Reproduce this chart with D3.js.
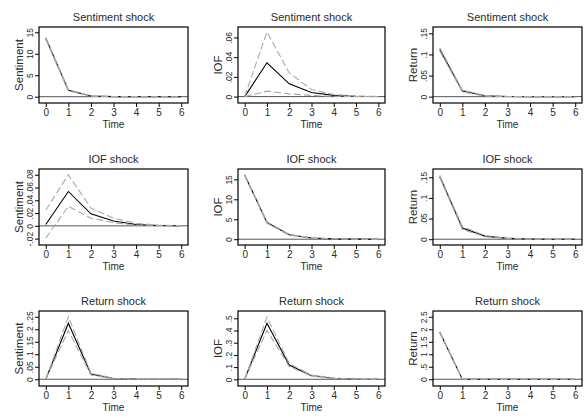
<!DOCTYPE html>
<html lang="en">
<head>
  <meta charset="UTF-8">
  <title>Impulse responses</title>
  <script src="https://d3js.org/d3.v7.min.js"></script>
  <style>
    body { margin: 0; background: #fff; }
    svg { display: block; }
    svg text { font-family: "Liberation Sans", Arial, sans-serif; font-weight: normal; fill: #2a2a2a; }
    .title { font-size: 11px; }
    .ytitle { font-size: 11.5px; }
    .xtitle { font-size: 10px; }
    .x-axis text { font-size: 10px; }
    .y-axis text { font-size: 8.5px; }
    .domain { display: none; }
  </style>
</head>
<body>
  <svg id="chart" width="584" height="418"></svg>
  <script>
    const steps = [0, 1, 2, 3, 4, 5, 6];
    const shocks = ['Sentiment shock', 'IOF shock', 'Return shock'];
    const responses = ['Sentiment', 'IOF', 'Return'];

    // row = shock, col = response
    const irfMean = [
      [13.6, 1.5, 0.15, 0.02, 0.003, 0, 0],
      [0, 0.0343, 0.013, 0.0041, 0.0012, 0.0003, 0.0001],
      [0.112, 0.0134, 0.002, 0.0003, 0, 0, 0],
      [0.002, 0.0538, 0.0188, 0.0075, 0.002, 0.0005, 0.0001],
      [16.1, 4.2, 1.1, 0.3, 0.08, 0.02, 0.005],
      [0.152, 0.027, 0.0075, 0.002, 0.0005, 0.0001, 0],
      [0, 0.224, 0.021, 0.003, 0.0004, 0, 0],
      [0, 0.46, 0.117, 0.03, 0.008, 0.002, 0.0005],
      [1.88, 0.005, 0, 0, 0, 0, 0]
    ];
    const irfLower = [
      [13.4, 1.35, 0.1, 0.01, 0, 0, 0],
      [0, 0.0055, 0.0028, 0.0012, 0.0003, 0.0001, 0],
      [0.108, 0.0115, 0.0012, 0.0001, 0, 0, 0],
      [-0.0193, 0.0305, 0.012, 0.005, 0.0012, 0.0003, 0],
      [16.0, 4.0, 1.0, 0.25, 0.06, 0.015, 0.003],
      [0.149, 0.024, 0.006, 0.0015, 0.0003, 0.0001, 0],
      [0, 0.195, 0.017, 0.002, 0.0002, 0, 0],
      [0, 0.40, 0.105, 0.026, 0.006, 0.0015, 0.0003],
      [1.86, 0.003, 0, 0, 0, 0, 0]
    ];
    const irfUpper = [
      [13.8, 1.65, 0.2, 0.03, 0.005, 0.001, 0],
      [0, 0.0656, 0.024, 0.0072, 0.002, 0.0006, 0.0002],
      [0.116, 0.0155, 0.003, 0.0005, 0.0001, 0, 0],
      [0.0245, 0.08, 0.0277, 0.012, 0.004, 0.001, 0.0003],
      [16.2, 4.4, 1.2, 0.35, 0.1, 0.025, 0.007],
      [0.155, 0.031, 0.009, 0.0025, 0.0007, 0.0002, 0],
      [0, 0.25, 0.025, 0.004, 0.0006, 0.0001, 0],
      [0, 0.51, 0.13, 0.034, 0.01, 0.0025, 0.0007],
      [1.90, 0.007, 0, 0, 0, 0, 0]
    ];
    const yTicks = [
      [0, 5, 10, 15],
      [0, 0.02, 0.04, 0.06],
      [0, 0.05, 0.1, 0.15],
      [-0.02, 0, 0.02, 0.04, 0.06, 0.08],
      [0, 5, 10, 15],
      [0, 0.05, 0.1, 0.15],
      [0, 0.05, 0.1, 0.15, 0.2, 0.25],
      [0, 0.1, 0.2, 0.3, 0.4, 0.5],
      [0, 0.5, 1, 1.5, 2, 2.5]
    ];
    const yRange = [
      [-1.47, 16.23], [-0.0065, 0.0706], [-0.015, 0.165],
      [-0.03, 0.089], [-1.45, 17.6], [-0.014, 0.17],
      [-0.027, 0.273], [-0.055, 0.56], [-0.27, 2.73]
    ];

    // plot frames
    const colX = [[39, 188], [238, 385], [433, 582]];
    const rowY = [[27, 103], [169, 245], [311, 386]];

    // stata style: .05, -.02
    const fmt = v => String(+v.toFixed(4)).replace(/^0\./, '.').replace(/^-0\./, '-.');

    const svg = d3.select('#chart');

    shocks.forEach((shock, r) => {
      responses.forEach((resp, c) => {
        const i = r * 3 + c;
        const [x0, x1] = colX[c];
        const [y0, y1] = rowY[r];

        const x = d3.scaleLinear().domain([-0.3, 6.3]).range([x0, x1]);
        const y = d3.scaleLinear().domain(yRange[i]).range([y1, y0]);

        const g = svg.append('g');

        // zero line
        g.append('line')
          .attr('x1', x0).attr('x2', x1)
          .attr('y1', y(0)).attr('y2', y(0))
          .attr('stroke', '#555').attr('stroke-width', 1);

        const line = d3.line()
          .x((d, k) => x(steps[k]))
          .y(d => y(d));

        g.append('path')
          .datum(irfMean[i])
          .attr('d', line)
          .attr('fill', 'none')
          .attr('stroke', '#000')
          .attr('stroke-width', 1.1);

        [irfLower[i], irfUpper[i]].forEach(band => {
          g.append('path')
            .datum(band)
            .attr('d', line)
            .attr('fill', 'none')
            .attr('stroke', '#aaa')
            .attr('stroke-width', 1.1)
            .attr('stroke-dasharray', '7,3');
        });

        // frame
        g.append('rect')
          .attr('x', x0).attr('y', y0)
          .attr('width', x1 - x0).attr('height', y1 - y0)
          .attr('fill', 'none')
          .attr('stroke', '#000')
          .attr('stroke-width', 1.2);

        g.append('g')
          .attr('class', 'x-axis')
          .attr('transform', `translate(0,${y1})`)
          .call(d3.axisBottom(x).tickValues(steps).tickSize(4).tickPadding(2).tickFormat(d3.format('d')));

        const ya = g.append('g')
          .attr('class', 'y-axis')
          .attr('transform', `translate(${x0},0)`)
          .call(d3.axisLeft(y).tickValues(yTicks[i]).tickSize(4).tickFormat(fmt));
        ya.selectAll('text')
          .attr('x', 0)
          .attr('y', -6)
          .attr('dy', 0)
          .attr('text-anchor', 'middle')
          .attr('transform', 'rotate(-90)');

        svg.selectAll('.tick line').attr('stroke', '#000');

        g.append('text')
          .attr('class', 'title')
          .attr('x', (x0 + x1) / 2)
          .attr('y', y0 - 6)
          .attr('text-anchor', 'middle')
          .text(shock);

        g.append('text')
          .attr('class', 'xtitle')
          .attr('x', (x0 + x1) / 2)
          .attr('y', y1 + 25)
          .attr('text-anchor', 'middle')
          .text('Time');

        g.append('text')
          .attr('class', 'ytitle')
          .attr('transform', `translate(${x0 - 16},${(y0 + y1) / 2}) rotate(-90)`)
          .attr('text-anchor', 'middle')
          .text(resp);
      });
    });
  </script>
</body>
</html>
